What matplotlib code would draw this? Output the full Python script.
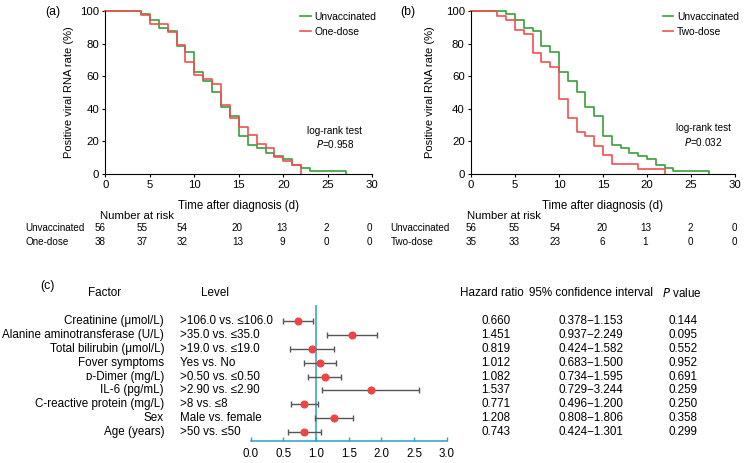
import matplotlib
matplotlib.use("Agg")
import matplotlib.pyplot as plt
from matplotlib.transforms import blended_transform_factory

plt.rcParams['font.family'] = ['Liberation Sans', 'DejaVu Sans']

# ---------------- data ----------------
unvac_t = [0, 4, 5, 6, 7, 8, 9, 10, 11, 12, 13, 14, 15, 16, 17, 18, 19, 20, 21, 22, 23, 27]
unvac_s = [100, 98.2, 94.6, 89.3, 87.5, 78.6, 75.0, 62.5, 57.1, 50.0, 41.1, 35.7, 23.2,
           17.9, 16.1, 12.5, 10.7, 8.9, 5.4, 3.6, 1.8, 0]
one_t = [0, 4, 5, 7, 8, 9, 10, 11, 12, 13, 14, 15, 16, 17, 18, 19, 20, 21, 22]
one_s = [100, 97.4, 92.1, 86.8, 78.9, 68.4, 60.5, 57.9, 55.3, 42.1, 34.2, 28.9, 23.7,
         18.4, 15.8, 10.5, 7.9, 5.3, 0]
two_t = [0, 3, 4, 5, 6, 7, 8, 9, 10, 11, 12, 13, 14, 15, 16, 19, 22]
two_s = [100, 97.1, 94.3, 88.6, 85.7, 74.3, 68.6, 65.7, 45.7, 34.3, 25.7, 22.9, 17.1,
         11.4, 5.7, 2.9, 0]

risk_unvac = [56, 55, 54, 20, 13, 2, 0]
risk_one = [38, 37, 32, 13, 9, 0, 0]
risk_two = [35, 33, 23, 6, 1, 0, 0]

factors = ["Creatinine (μmol/L)", "Alanine aminotransferase (U/L)", "Total bilirubin (μmol/L)",
           "Fover symptoms", "ᴅ-Dimer (mg/L)", "IL-6 (pg/mL)", "C-reactive protein (mg/L)",
           "Sex", "Age (years)"]
levels = [">106.0 vs. ≤106.0", ">35.0 vs. ≤35.0", ">19.0 vs. ≤19.0", "Yes vs. No",
          ">0.50 vs. ≤0.50", ">2.90 vs. ≤2.90", ">8 vs. ≤8", "Male vs. female", ">50 vs. ≤50"]
plot_hr = [0.73, 1.55, 0.94, 1.06, 1.13, 1.84, 0.82, 1.27, 0.82]
plot_lo = [0.50, 1.17, 0.60, 0.82, 0.88, 1.09, 0.62, 0.99, 0.57]
plot_hi = [0.95, 1.93, 1.28, 1.30, 1.38, 2.58, 1.03, 1.57, 1.07]
hr_text = ["0.660", "1.451", "0.819", "1.012", "1.082", "1.537", "0.771", "1.208", "0.743"]
ci_text = ["0.378−1.153", "0.937−2.249", "0.424−1.582", "0.683−1.500", "0.734−1.595",
           "0.729−3.244", "0.496−1.200", "0.808−1.806", "0.424−1.301"]
p_text = ["0.144", "0.095", "0.552", "0.952", "0.691", "0.259", "0.250", "0.358", "0.299"]

GREEN = "#3a9e3a"
RED = "#f05050"
TEAL = "#2aa0c4"

W, H = 744, 463
fig = plt.figure(figsize=(W / 100, H / 100), dpi=100)


def fx(x):
    return x / W


def fy(y):
    return 1 - y / H


def km_panel(rect, t2, s2, name2, ptxt, txy, ylab_x):
    ax = fig.add_axes(rect)
    ax.step(unvac_t, unvac_s, where='post', color=GREEN, lw=1.2, label="Unvaccinated", clip_on=False)
    ax.step(t2, s2, where='post', color=RED, lw=1.2, label=name2, clip_on=False)
    ax.set_xlim(0, 30)
    ax.set_ylim(0, 100)
    ax.set_xticks(range(0, 31, 5))
    ax.set_yticks(range(0, 101, 20))
    for s in ['top', 'right']:
        ax.spines[s].set_visible(False)
    for s in ['left', 'bottom']:
        ax.spines[s].set_linewidth(0.8)
    ax.tick_params(direction='out', length=2.5, width=0.8, pad=2, labelsize=8.2)
    ax.set_xlabel("Time after diagnosis (d)", fontsize=8.3)
    ax.xaxis.set_label_coords(0.5, -0.16)
    ax.set_ylabel("Positive viral RNA rate (%)", fontsize=8.0)
    ax.yaxis.set_label_coords(ylab_x, 0.5)
    ax.legend(loc='upper right', frameon=False, fontsize=7.4, handlelength=1.0,
              handletextpad=0.35, borderaxespad=0.0, labelspacing=0.5,
              bbox_to_anchor=(1.03, 1.02))
    ax.text(txy[0], txy[1], "log-rank test", ha='center', va='center', fontsize=7.2)
    ax.text(txy[0], txy[2], "$\\it{P}$=" + ptxt, ha='center', va='center', fontsize=7.2)
    return ax


axA = km_panel([fx(105.3), fy(173.7), 267 / W, 162.7 / H], one_t, one_s, "One-dose",
               "0.958", (25.8, 26.2, 18.3), -0.117)
axB = km_panel([fx(471), fy(173.7), 264 / W, 162.7 / H], two_t, two_s, "Two-dose",
               "0.032", (26.4, 28.0, 19.6), -0.136)

fig.text(fx(45), fy(12), "(a)", fontsize=8.8, ha='left', va='center')
fig.text(fx(400), fy(12), "(b)", fontsize=8.8, ha='left', va='center')

RFS = 7.1


def risk_table(label_x, head_x, xs, name2, r2):
    fig.text(fx(head_x), fy(216.5), "Number at risk", fontsize=8.2, ha='left', va='center')
    fig.text(fx(label_x), fy(228.3), "Unvaccinated", fontsize=RFS, ha='left', va='center')
    fig.text(fx(label_x), fy(242.3), name2, fontsize=RFS, ha='left', va='center')
    for x, a, b in zip(xs, risk_unvac, r2):
        fig.text(fx(x), fy(228.3), str(a), fontsize=RFS, ha='center', va='center')
        fig.text(fx(x), fy(242.3), str(b), fontsize=RFS, ha='center', va='center')


risk_table(25, 99.5, [100.5, 141.7, 182.5, 237.5, 282, 326, 369.3], "One-dose", risk_one)
risk_table(390.5, 467, [471.3, 514, 555.5, 602, 645.5, 690.3, 734.5], "Two-dose", risk_two)

# ---------------- forest plot ----------------
axC = fig.add_axes([fx(250.7), fy(440.7), 196 / W, (440.7 - 305) / H])
rows = list(range(len(factors)))
axC.set_ylim(8.6, -1.125)
axC.set_xlim(0, 3)
axC.axvline(1.0, color=TEAL, lw=1.1, zorder=1)
xerr = [[h - l for h, l in zip(plot_hr, plot_lo)], [u - h for h, u in zip(plot_hr, plot_hi)]]
axC.errorbar(plot_hr, rows, xerr=xerr, fmt='none', ecolor="#555555", elinewidth=1.0,
             capsize=2.3, capthick=1.0, zorder=2)
axC.plot(plot_hr, rows, 'o', color="#f04444", markersize=4.8, zorder=3)
for s in ['top', 'right', 'left']:
    axC.spines[s].set_visible(False)
axC.spines['bottom'].set_color(TEAL)
axC.spines['bottom'].set_linewidth(1.1)
axC.set_yticks([])
axC.set_xticks([0, 0.5, 1.0, 1.5, 2.0, 2.5, 3.0])
axC.set_xticklabels(["0.0", "0.5", "1.0", "1.5", "2.0", "2.5", "3.0"])
axC.tick_params(axis='x', direction='in', length=3, width=1.0, color=TEAL, pad=5,
                labelsize=8.3)

tr = blended_transform_factory(fig.transFigure, axC.transData)
FS2 = 8.4
for i in rows:
    axC.text(fx(164), i, factors[i], transform=tr, ha='right', va='center', fontsize=FS2)
    axC.text(fx(180), i, levels[i], transform=tr, ha='left', va='center', fontsize=FS2)
    axC.text(fx(496), i, hr_text[i], transform=tr, ha='center', va='center', fontsize=FS2)
    axC.text(fx(590.7), i, ci_text[i], transform=tr, ha='center', va='center', fontsize=FS2)
    axC.text(fx(682.7), i, p_text[i], transform=tr, ha='center', va='center', fontsize=FS2)

fig.text(fx(40), fy(286), "(c)", fontsize=8.8, ha='left', va='center')
fig.text(fx(105), fy(293.3), "Factor", fontsize=FS2, ha='center', va='center')
fig.text(fx(215), fy(293.3), "Level", fontsize=FS2, ha='center', va='center')
fig.text(fx(491.7), fy(293.3), "Hazard ratio", fontsize=FS2, ha='center', va='center')
fig.text(fx(590.7), fy(293.3), "95% confidence interval", fontsize=FS2, ha='center', va='center')
fig.text(fx(681.7), fy(293.3), "$\\it{P}$ value", fontsize=FS2, ha='center', va='center')

fig.savefig("out.png", dpi=100)
